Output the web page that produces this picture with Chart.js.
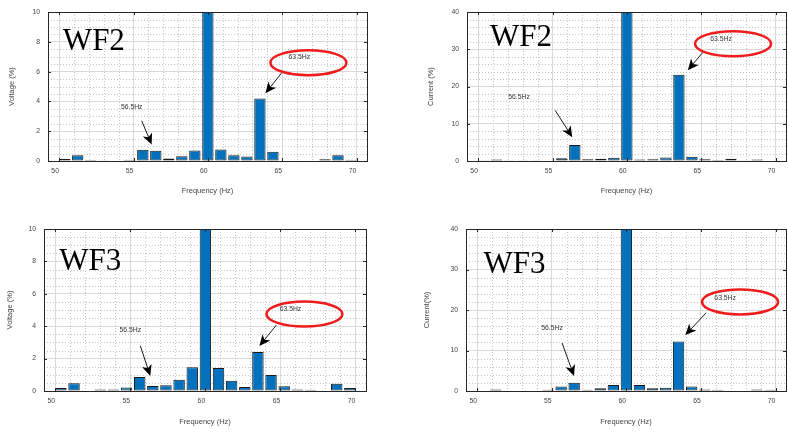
<!DOCTYPE html>
<html>
<head>
<meta charset="utf-8">
<script src="https://cdn.jsdelivr.net/npm/chart.js@4.4.1/dist/chart.umd.min.js"></script>
<style>
    html, body { margin: 0; padding: 0; background: #fff; }
    #wrap { position: relative; width: 788px; height: 433px; overflow: hidden; }
    #wrap canvas { position: absolute; }
</style>
</head>
<body>
<div id="wrap">
    <canvas id="wf2Volt" width="394" height="215" style="left:0;top:0"></canvas>
    <canvas id="wf2Curr" width="394" height="215" style="left:394px;top:0"></canvas>
    <canvas id="wf3Volt" width="394" height="218" style="left:0;top:215px"></canvas>
    <canvas id="wf3Curr" width="394" height="218" style="left:394px;top:215px"></canvas>
</div>
<script>
// ── Data ────────────────────────────────────────────────────────
const freqs = [50.375, 51.25, 52.125, 53, 53.875, 54.75, 55.625, 56.5, 57.375, 58.25, 59.125,
               60, 60.875, 61.75, 62.625, 63.5, 64.375, 65.25, 66.125, 67, 67.875, 68.75, 69.625];

// 60 Hz fundamental is off the scale (100 %), clipped at the top of each axis
const wf2Voltage = [0.13, 0.38, 0.06, 0.02, 0.03, 0.08, 0.75, 0.68, 0.17, 0.32, 0.70,
                    100, 0.77, 0.38, 0.30, 4.19, 0.62, 0.03, 0.03, 0.03, 0.12, 0.38, 0.08];
const wf2Current = [0.20, 0.40, 0.10, 0.10, 0.10, 0.15, 0.75, 4.30, 0.45, 0.60, 0.90,
                    100, 0.40, 0.45, 0.95, 23.2, 1.15, 0.50, 0.30, 0.60, 0.10, 0.40, 0.15];
const wf3Voltage = [0.18, 0.48, 0.03, 0.10, 0.10, 0.22, 0.87, 0.31, 0.35, 0.70, 1.47,
                    100, 1.42, 0.64, 0.24, 2.40, 0.98, 0.30, 0.10, 0.08, 0.03, 0.45, 0.18];
const wf3Current = [0.10, 0.40, 0.10, 0.15, 0.10, 0.30, 1.10, 2.05, 0.30, 0.70, 1.50,
                    100, 1.50, 0.70, 0.80, 12.2, 1.10, 0.40, 0.30, 0.10, 0.10, 0.40, 0.30];

const freqTicks    = [50, 55, 60, 65, 70];
const voltageTicks = [0, 2, 4, 6, 8, 10];
const currentTicks = [0, 10, 20, 30, 40];

const SANS  = "'Liberation Sans', Arial, sans-serif";
const SERIF = "'Liberation Serif', 'Times New Roman', serif";

// ── Panels (annotation anchors in data units) ───────────────────
const panels = [
    { id: 'wf2Volt', values: wf2Voltage, yTicks: voltageTicks, yMinor: 0.5, yTitle: 'Voltage (%)',
      yWidth: 48, xHeight: 54, pad: { top: 5, right: 27 }, yTitlePad: 7, xTitlePad: 20,
      tag: ['WF2', 50.25, 7.44], ring: [66.76, 6.6], hiText: [66.15, 7.0], hiArrow: [64.95, 5.9, 63.87, 4.55],
      loText: [54.88, 3.6], loArrow: [55.55, 2.7, 56.22, 1.1] },
    { id: 'wf2Curr', values: wf2Current, yTicks: currentTicks, yMinor: 2, yTitle: 'Current (%)',
      yWidth: 73, xHeight: 54, pad: { top: 5, right: 2 }, yTitlePad: 32, xTitlePad: 20,
      tag: ['WF2', 50.79, 31.0], ring: [67.14, 31.5], hiText: [66.33, 32.8], hiArrow: [65.11, 29.2, 64.1, 24.4],
      loText: [52.75, 17.2], loArrow: [55.18, 13.6, 56.33, 6.4] },
    { id: 'wf3Volt', values: wf3Voltage, yTicks: voltageTicks, yMinor: 0.5, yTitle: 'Voltage (%)',
      yWidth: 44, xHeight: 42, pad: { top: 14, right: 28 }, yTitlePad: 5, xTitlePad: 7,
      tag: ['WF3', 50.27, 7.47], ring: [66.6, 4.75], hiText: [65.67, 5.05], hiArrow: [64.73, 4.07, 63.6, 2.78],
      loText: [55.0, 3.77], loArrow: [55.67, 2.78, 56.33, 0.93] },
    { id: 'wf3Curr', values: wf3Current, yTicks: currentTicks, yMinor: 2, yTitle: 'Current(%)',
      yWidth: 72, xHeight: 42, pad: { top: 14, right: 2 }, yTitlePad: 28, xTitlePad: 7,
      tag: ['WF3', 50.42, 29.1], ring: [67.62, 22.0], hiText: [66.62, 23.0], hiArrow: [65.35, 19.3, 63.95, 13.8],
      loText: [55.02, 15.6], loArrow: [55.69, 11.85, 56.49, 3.7] },
];

// ── Plugin: minor grid, box, inner ticks, annotations ──────────
const decor = {
    id: 'decor',
    beforeDatasetsDraw(chart, args, p) {
        const { ctx, chartArea: a, scales: { x, y } } = chart;
        ctx.save();
        ctx.strokeStyle = '#c4c4c4';
        ctx.lineWidth = 1;
        ctx.setLineDash([1, 2]);
        for (let f = 50; f <= 70; f += 1) {
            if (f % 5 === 0) continue;
            const px = Math.round(x.getPixelForValue(f)) + 0.5;
            ctx.beginPath(); ctx.moveTo(px, a.top); ctx.lineTo(px, a.bottom); ctx.stroke();
        }
        const top = p.yTicks[p.yTicks.length - 1], step = p.yTicks[1] - p.yTicks[0];
        for (let v = p.yMinor; v < top; v += p.yMinor) {
            if (Math.abs(v / step - Math.round(v / step)) < 1e-6) continue;
            const py = Math.round(y.getPixelForValue(v)) + 0.5;
            ctx.beginPath(); ctx.moveTo(a.left, py); ctx.lineTo(a.right, py); ctx.stroke();
        }
        ctx.restore();
    },
    afterDraw(chart, args, p) {
        const { ctx, chartArea: a, scales: { x, y } } = chart;
        ctx.save();

        // axes box + inward tick marks
        ctx.strokeStyle = '#262626';
        ctx.lineWidth = 1;
        ctx.strokeRect(Math.round(a.left) + 0.5, Math.round(a.top) + 0.5,
                       Math.round(a.right - a.left), Math.round(a.bottom - a.top));
        ctx.beginPath();
        freqTicks.forEach(f => {
            const px = Math.round(x.getPixelForValue(f)) + 0.5;
            ctx.moveTo(px, a.bottom); ctx.lineTo(px, a.bottom - 3);
            ctx.moveTo(px, a.top);    ctx.lineTo(px, a.top + 3);
        });
        p.yTicks.forEach(v => {
            const py = Math.round(y.getPixelForValue(v)) + 0.5;
            ctx.moveTo(a.left, py);  ctx.lineTo(a.left + 3, py);
            ctx.moveTo(a.right, py); ctx.lineTo(a.right - 3, py);
        });
        ctx.stroke();

        // WF tag
        ctx.fillStyle = '#000';
        ctx.font = '31px ' + SERIF;
        ctx.textAlign = 'left';
        ctx.textBaseline = 'alphabetic';
        ctx.fillText(p.tag[0], x.getPixelForValue(p.tag[1]), y.getPixelForValue(p.tag[2]));

        // red ring
        ctx.strokeStyle = '#ee1c1c';
        ctx.lineWidth = 2.5;
        ctx.beginPath();
        ctx.ellipse(x.getPixelForValue(p.ring[0]), y.getPixelForValue(p.ring[1]), 38, 12.5, 0, 0, Math.PI * 2);
        ctx.stroke();

        // labels
        ctx.fillStyle = '#333';
        ctx.font = '6.8px ' + SANS;
        ctx.textAlign = 'center';
        ctx.textBaseline = 'middle';
        ctx.fillText('63.5Hz', x.getPixelForValue(p.hiText[0]), y.getPixelForValue(p.hiText[1]));
        ctx.fillText('56.5Hz', x.getPixelForValue(p.loText[0]), y.getPixelForValue(p.loText[1]));

        // arrows
        drawArrow(ctx, x, y, p.hiArrow);
        drawArrow(ctx, x, y, p.loArrow);
        ctx.restore();
    }
};

function drawArrow(ctx, x, y, pts) {
    const x1 = x.getPixelForValue(pts[0]), y1 = y.getPixelForValue(pts[1]);
    const x2 = x.getPixelForValue(pts[2]), y2 = y.getPixelForValue(pts[3]);
    const ang = Math.atan2(y2 - y1, x2 - x1);
    ctx.strokeStyle = '#000';
    ctx.fillStyle = '#000';
    ctx.lineWidth = 0.9;
    ctx.beginPath();
    ctx.moveTo(x1, y1);
    ctx.lineTo(x2 - Math.cos(ang) * 6, y2 - Math.sin(ang) * 6);
    ctx.stroke();
    ctx.save();
    ctx.translate(x2, y2);
    ctx.rotate(ang);
    ctx.beginPath();
    ctx.moveTo(0, 0);
    ctx.lineTo(-11, -5);
    ctx.lineTo(-8, 0);
    ctx.lineTo(-11, 5);
    ctx.closePath();
    ctx.fill();
    ctx.restore();
}

// ── Charts ──────────────────────────────────────────────────────
panels.forEach(p => {
    const yMax = p.yTicks[p.yTicks.length - 1];
    new Chart(document.getElementById(p.id), {
        type: 'bar',
        data: {
            datasets: [{
                data: freqs.map((f, i) => ({ x: f, y: p.values[i] })),
                backgroundColor: '#0072BD',
                borderColor: '#1a1a1a',
                borderWidth: 1,
                borderSkipped: false,
                barPercentage: 0.87,
                categoryPercentage: 1,
                clip: 0,
            }],
        },
        plugins: [decor],
        options: {
            responsive: false,
            animation: false,
            events: [],
            layout: { padding: { top: p.pad.top, right: p.pad.right, left: 0, bottom: 0 } },
            plugins: {
                legend: { display: false },
                tooltip: { enabled: false },
                decor: p,
            },
            scales: {
                x: {
                    type: 'linear',
                    min: 49.25,
                    max: 70.7,
                    offset: false,
                    afterBuildTicks: s => { s.ticks = freqTicks.map(v => ({ value: v })); },
                    afterFit: s => { s.height = p.xHeight; },
                    grid: { color: '#d9d9d9', drawTicks: false, offset: false },
                    border: { display: false },
                    ticks: { color: '#444', font: { family: SANS, size: 6.8 }, padding: 6, labelOffset: -4, maxRotation: 0 },
                    title: { display: true, text: 'Frequency (Hz)', color: '#444',
                             font: { family: SANS, size: 7.5 }, padding: { top: 0, bottom: p.xTitlePad } },
                },
                y: {
                    min: 0,
                    max: yMax,
                    afterBuildTicks: s => { s.ticks = p.yTicks.map(v => ({ value: v })); },
                    afterFit: s => { s.width = p.yWidth; },
                    grid: { color: '#d9d9d9', drawTicks: false },
                    border: { display: false },
                    ticks: { color: '#444', font: { family: SANS, size: 6.8 }, padding: 8 },
                    title: { display: true, text: p.yTitle, color: '#444',
                             font: { family: SANS, size: 7.5 }, padding: { top: p.yTitlePad, bottom: 0 } },
                },
            },
        },
    });
});
</script>
</body>
</html>
